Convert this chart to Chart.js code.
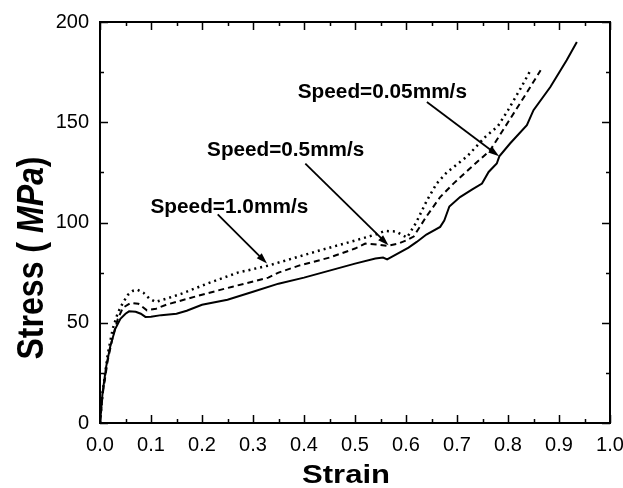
<!DOCTYPE html>
<html>
<head>
<meta charset="utf-8">
<script src="https://cdn.jsdelivr.net/npm/chart.js@4/dist/chart.umd.min.js"></script>
<style>
html,body{margin:0;padding:0;background:#fff;}
canvas{display:block;}
</style>
</head>
<body>
<canvas id="c" width="623" height="488"></canvas>
<script>
// ---- data ----
const xTickLabels = ['0.0','0.1','0.2','0.3','0.4','0.5','0.6','0.7','0.8','0.9','1.0'];
const yTickLabels = ['0','50','100','150','200'];

const strain005 = [0,0.005,0.012,0.02,0.03,0.04,0.05,0.057,0.07,0.08,0.089,0.1,0.12,0.15,0.17,0.2,0.25,0.3,0.35,0.4,0.45,0.5,0.54,0.555,0.563,0.58,0.605,0.621,0.64,0.667,0.675,0.685,0.706,0.73,0.749,0.762,0.778,0.783,0.804,0.837,0.85,0.883,0.915,0.935];
const stress005 = [0,15,28,38,47,52,54.5,55.7,55.5,54.5,52.9,53,53.8,54.5,56,59,61.5,65.5,69.5,72.5,76,79.5,82,82.5,81.6,84,87.5,90.3,94,97.8,101,108,112.7,116.5,119.4,125.2,129.4,133,139.4,148.5,156,167.6,180.9,190];

const strain05 = [0,0.005,0.015,0.025,0.035,0.045,0.06,0.075,0.092,0.11,0.13,0.2,0.26,0.33,0.35,0.39,0.45,0.5,0.52,0.545,0.563,0.585,0.6,0.615,0.64,0.667,0.693,0.73,0.765,0.8,0.835,0.864];
const stress05 = [0,14,31,43,52,57.5,59.9,59.5,56.2,57,59,64,68,72.5,75,78.5,82.5,87,89.5,89,88.3,89.5,91,93,103,112.7,119.4,128,136,150,164,175.9];

const strain10 = [0,0.005,0.015,0.025,0.035,0.045,0.055,0.065,0.073,0.085,0.097,0.109,0.13,0.16,0.21,0.27,0.33,0.39,0.43,0.5,0.54,0.559,0.58,0.602,0.62,0.641,0.66,0.68,0.72,0.755,0.78,0.8,0.825,0.845];
const stress10 = [0,15,34,47,55,60,64,66,66.5,65,62,60.4,62,64.5,69.5,75,78.5,83,86,91,94,95.8,95.5,92.5,100,111,119.4,125,133,142.6,148,156,167,176.3];

const labels = ['Speed=0.05mm/s','Speed=0.5mm/s','Speed=1.0mm/s'];
// annotation text anchor (strain, stress) and arrow from/to (strain, stress)
const labelAt   = [[0.3877,161.9],[0.21,133.0],[0.0989,104.6]];
const labelEnd  = [0.7195,0.5181,0.4083];
const arrowFrom = [[0.641,160.1],[0.4026,129.4],[0.2308,104.1]];
const arrowTo   = [[0.7826,133.0],[0.5657,88.6],[0.3275,79.5]];

function pts(xs, ys){ return xs.map((x,i)=>({x:x,y:ys[i]})); }

const FONT = "'Liberation Sans', Arial, sans-serif";

const framePlugin = {
  id:'frame',
  afterDraw(chart){
    const ctx = chart.ctx;
    const xs = chart.scales.x, ys = chart.scales.y;
    const a = chart.chartArea;
    ctx.save();
    ctx.strokeStyle = '#000';
    ctx.lineWidth = 2;
    ctx.strokeRect(a.left, a.top, a.right-a.left, a.bottom-a.top);
    ctx.lineWidth = 1.5;
    ctx.beginPath();
    for(let i=0;i<=20;i++){
      const v = i*0.05;
      const px = Math.round(xs.getPixelForValue(v))+0.5;
      const len = (i%2===0)?8:4;
      ctx.moveTo(px, a.bottom); ctx.lineTo(px, a.bottom-len);
      ctx.moveTo(px, a.top); ctx.lineTo(px, a.top+len);
    }
    for(let i=0;i<=8;i++){
      const v = i*25;
      const py = Math.round(ys.getPixelForValue(v))+0.5;
      const len = (i%2===0)?8:4;
      ctx.moveTo(a.left, py); ctx.lineTo(a.left+len, py);
      ctx.moveTo(a.right, py); ctx.lineTo(a.right-len, py);
    }
    ctx.stroke();

    // annotations
    ctx.fillStyle = '#000';
    ctx.textBaseline = 'alphabetic';
    ctx.textAlign = 'left';
    for(let i=0;i<labels.length;i++){
      ctx.font = "bold 20px " + FONT;
      const lx = xs.getPixelForValue(labelAt[i][0]);
      const target = xs.getPixelForValue(labelEnd[i]) - lx;
      const w = ctx.measureText(labels[i]).width;
      ctx.save();
      ctx.translate(lx, ys.getPixelForValue(labelAt[i][1]));
      ctx.scale(target/w, 1);
      ctx.fillText(labels[i], 0, 0);
      ctx.restore();
      const x0 = xs.getPixelForValue(arrowFrom[i][0]), y0 = ys.getPixelForValue(arrowFrom[i][1]);
      const x1 = xs.getPixelForValue(arrowTo[i][0]), y1 = ys.getPixelForValue(arrowTo[i][1]);
      const ang = Math.atan2(y1-y0, x1-x0);
      const hl = 11, hw = 3.5;
      ctx.lineWidth = 1.8;
      ctx.beginPath();
      ctx.moveTo(x0,y0);
      ctx.lineTo(x1 - Math.cos(ang)*hl*0.8, y1 - Math.sin(ang)*hl*0.8);
      ctx.stroke();
      ctx.beginPath();
      ctx.moveTo(x1,y1);
      ctx.lineTo(x1 - Math.cos(ang)*hl - Math.sin(ang)*hw, y1 - Math.sin(ang)*hl + Math.cos(ang)*hw);
      ctx.lineTo(x1 - Math.cos(ang)*hl + Math.sin(ang)*hw, y1 - Math.sin(ang)*hl - Math.cos(ang)*hw);
      ctx.closePath();
      ctx.fill();
    }

    // x title
    ctx.font = "bold 25px " + FONT;
    const tw = ctx.measureText('Strain').width;
    ctx.save();
    ctx.translate(346, 483);
    ctx.scale(88/tw, 1);
    ctx.textAlign = 'center';
    ctx.fillText('Strain', 0, 0);
    ctx.restore();

    // y title (rotated), with italic MPa
    const parts = [['Stress ( ', 'bold 36px '+FONT], ['MPa', 'italic bold 36px '+FONT], [')', 'bold 36px '+FONT]];
    let total = 0;
    const widths = parts.map(p=>{ ctx.font = p[1]; const w = ctx.measureText(p[0]).width; total += w; return w; });
    ctx.save();
    ctx.translate(43, 258);
    ctx.rotate(-Math.PI/2);
    ctx.scale(203/total, 1);
    let cx = -total/2;
    ctx.textAlign = 'left';
    parts.forEach((p,i)=>{ ctx.font = p[1]; ctx.fillText(p[0], cx, 0); cx += widths[i]; });
    ctx.restore();

    ctx.restore();
  }
};

new Chart(document.getElementById('c'), {
  type:'scatter',
  data:{
    datasets:[
      {label:labels[0], data:pts(strain005,stress005), showLine:true, borderColor:'#000', borderWidth:2, pointRadius:0, fill:false},
      {label:labels[1], data:pts(strain05,stress05), showLine:true, borderColor:'#000', borderWidth:2, borderDash:[6,4], pointRadius:0, fill:false},
      {label:labels[2], data:pts(strain10,stress10), showLine:true, borderColor:'#000', borderWidth:2.5, borderDash:[2,4], pointRadius:0, fill:false}
    ]
  },
  options:{
    responsive:false,
    animation:false,
    devicePixelRatio:1,
    layout:{padding:{top:22,right:13,left:0,bottom:0}},
    plugins:{legend:{display:false}, tooltip:{enabled:false}},
    scales:{
      x:{
        type:'linear', min:0, max:1,
        grid:{display:false, drawTicks:false},
        border:{display:false},
        afterFit(s){ s.height = 65; s.paddingLeft = 0; s.paddingRight = 0; },
        ticks:{stepSize:0.1, padding:10, color:'#000', font:{family:FONT, size:20},
          callback:(v,i)=> xTickLabels[Math.round(v*10)] ?? '' , maxRotation:0, autoSkip:false}
      },
      y:{
        type:'linear', min:0, max:200,
        grid:{display:false, drawTicks:false},
        border:{display:false},
        afterFit(s){ s.width = 100; s.paddingTop = 0; s.paddingBottom = 0; },
        ticks:{stepSize:50, padding:11, color:'#000', font:{family:FONT, size:20},
          callback:(v)=> yTickLabels[Math.round(v/50)] ?? ''}
      }
    }
  },
  plugins:[framePlugin]
});
</script>
</body>
</html>
